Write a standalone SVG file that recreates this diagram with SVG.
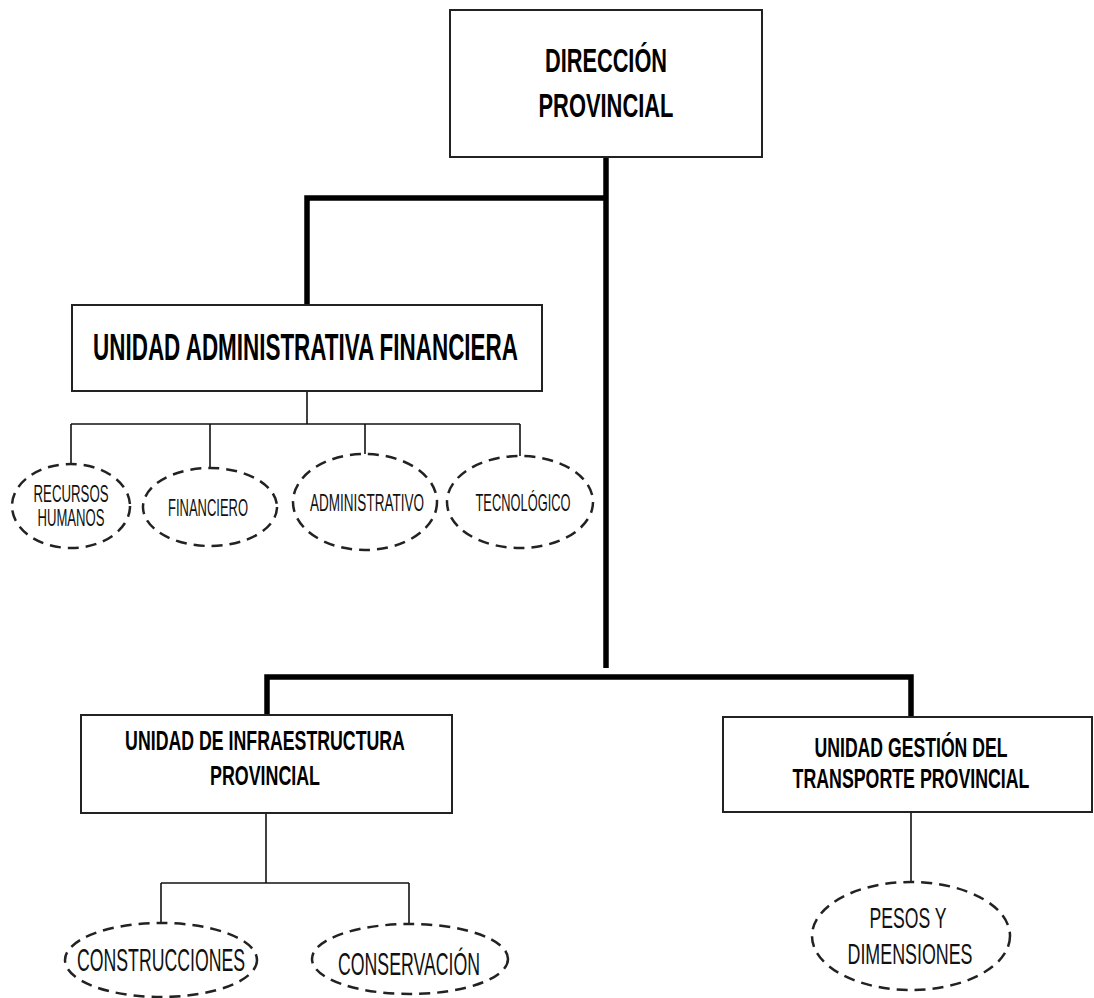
<svg xmlns="http://www.w3.org/2000/svg" width="1094" height="998" viewBox="0 0 1094 998">
<style>
.box{fill:#fff;stroke:#222;stroke-width:2}
.ell{fill:#fff;stroke:#222;stroke-width:2.5;stroke-dasharray:11 7}
.thick{fill:none;stroke:#000;stroke-width:5.5}
.thin{fill:none;stroke:#111;stroke-width:1.6}
.bt{font-family:"Liberation Sans",Arial,sans-serif;font-weight:bold;fill:#000;text-anchor:middle}
.et{font-family:"Liberation Sans",Arial,sans-serif;fill:#111;text-anchor:middle}
</style>
<rect width="1094" height="998" fill="#fff"/>
<g id="connectors">
<polyline class="thick" points="307,307 307,198 606,198"/>
<line class="thick" x1="606" y1="157" x2="606" y2="668"/>
<polyline class="thick" points="267,716 267,677 911,677 911,717"/>
<line class="thin" x1="307" y1="391" x2="307" y2="424"/>
<line class="thin" x1="71" y1="424" x2="520" y2="424"/>
<line class="thin" x1="71" y1="424" x2="71" y2="464"/>
<line class="thin" x1="210" y1="424" x2="210" y2="468"/>
<line class="thin" x1="365" y1="424" x2="365" y2="454"/>
<line class="thin" x1="520" y1="424" x2="520" y2="456"/>
<line class="thin" x1="266" y1="813" x2="266" y2="883"/>
<line class="thin" x1="161" y1="883" x2="409" y2="883"/>
<line class="thin" x1="161" y1="883" x2="161" y2="923"/>
<line class="thin" x1="409" y1="883" x2="409" y2="924"/>
<line class="thin" x1="911" y1="812" x2="911" y2="882"/>
</g>
<g id="direccion">
<rect class="box" x="450" y="10" width="312" height="147"/>
<text class="bt" transform="translate(606,72) scale(0.66,1)" font-size="33" textLength="185" lengthAdjust="spacingAndGlyphs">DIRECCIÓN</text>
<text class="bt" transform="translate(606,117) scale(0.66,1)" font-size="33" textLength="204.5" lengthAdjust="spacingAndGlyphs">PROVINCIAL</text>
</g>
<g id="uaf">
<rect class="box" x="72" y="305" width="470" height="86"/>
<text class="bt" transform="translate(305.5,360) scale(0.6,1)" font-size="37" textLength="708" lengthAdjust="spacingAndGlyphs">UNIDAD ADMINISTRATIVA FINANCIERA</text>
</g>
<g id="rrhh">
<ellipse class="ell" cx="71" cy="506" rx="59" ry="42"/>
<text class="et" transform="translate(71,502) scale(0.577,1)" font-size="23" textLength="130" lengthAdjust="spacingAndGlyphs">RECURSOS</text>
<text class="et" transform="translate(71,526) scale(0.57,1)" font-size="23" textLength="117.5" lengthAdjust="spacingAndGlyphs">HUMANOS</text>
</g>
<g id="financiero">
<ellipse class="ell" cx="210" cy="507" rx="67" ry="39"/>
<text class="et" transform="translate(208,516) scale(0.54,1)" font-size="24" textLength="148" lengthAdjust="spacingAndGlyphs">FINANCIERO</text>
</g>
<g id="administrativo">
<ellipse class="ell" cx="365" cy="502" rx="72" ry="48"/>
<text class="et" transform="translate(367,511) scale(0.56,1)" font-size="24" textLength="203.5" lengthAdjust="spacingAndGlyphs">ADMINISTRATIVO</text>
</g>
<g id="tecnologico">
<ellipse class="ell" cx="520" cy="502" rx="73" ry="46"/>
<text class="et" transform="translate(523,511) scale(0.535,1)" font-size="24" textLength="177.5" lengthAdjust="spacingAndGlyphs">TECNOLÓGICO</text>
</g>
<g id="uip">
<rect class="box" x="81" y="715" width="371" height="98"/>
<text class="bt" transform="translate(265,750) scale(0.626,1)" font-size="28" textLength="447" lengthAdjust="spacingAndGlyphs">UNIDAD DE INFRAESTRUCTURA</text>
<text class="bt" transform="translate(265,785) scale(0.637,1)" font-size="28" textLength="172.7" lengthAdjust="spacingAndGlyphs">PROVINCIAL</text>
</g>
<g id="ugtp">
<rect class="box" x="723" y="717" width="369" height="95"/>
<text class="bt" transform="translate(911,757) scale(0.653,1)" font-size="27" textLength="295.5" lengthAdjust="spacingAndGlyphs">UNIDAD GESTIÓN DEL</text>
<text class="bt" transform="translate(911,788) scale(0.658,1)" font-size="27" textLength="360" lengthAdjust="spacingAndGlyphs">TRANSPORTE PROVINCIAL</text>
</g>
<g id="construcciones">
<ellipse class="ell" cx="161" cy="960" rx="96" ry="37"/>
<text class="et" transform="translate(161,971) scale(0.57,1)" font-size="31" textLength="294.7" lengthAdjust="spacingAndGlyphs">CONSTRUCCIONES</text>
</g>
<g id="conservacion">
<ellipse class="ell" cx="410" cy="959" rx="98" ry="35"/>
<text class="et" transform="translate(409,975) scale(0.565,1)" font-size="31" textLength="251.3" lengthAdjust="spacingAndGlyphs">CONSERVACIÓN</text>
</g>
<g id="pesos">
<ellipse class="ell" cx="911" cy="936" rx="99" ry="54"/>
<text class="et" transform="translate(908,928) scale(0.585,1)" font-size="30" textLength="131.6" lengthAdjust="spacingAndGlyphs">PESOS Y</text>
<text class="et" transform="translate(910,964) scale(0.595,1)" font-size="30" textLength="210" lengthAdjust="spacingAndGlyphs">DIMENSIONES</text>
</g>
</svg>
